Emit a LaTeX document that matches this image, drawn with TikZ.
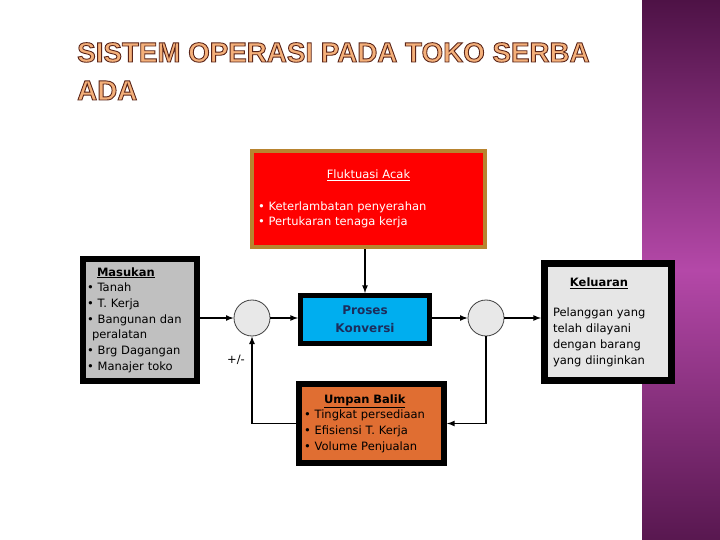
\documentclass[tikz,border=0pt]{standalone}
\usepackage{fontspec}
\usepackage{tikz}
\setmainfont{DejaVu Sans}
\newfontfamily\titlefont{Liberation Sans}
\usetikzlibrary{positioning}

\definecolor{titlefill}{HTML}{F4B07A}
\definecolor{titleline}{HTML}{5A2418}
\definecolor{flukborder}{HTML}{B8842F}
\definecolor{flukred}{HTML}{FF0000}
\definecolor{inputgray}{HTML}{C0C0C0}
\definecolor{outputgray}{HTML}{E6E6E6}
\definecolor{knotgray}{HTML}{E8E8E8}
\definecolor{prosesblue}{HTML}{00AEEF}
\definecolor{prosestext}{HTML}{1C2D5C}
\definecolor{umpanorange}{HTML}{E06E32}
\definecolor{purpdark}{HTML}{4E1246}
\definecolor{purpmid}{HTML}{B448A8}

% outlined title letters
\newcommand{\outlined}[1]{%
  \textcolor{titlefill}{%
    \special{pdf:literal direct 2 Tr 0.9 w 0.353 0.141 0.094 RG}%
    #1%
    \special{pdf:literal direct 0 Tr}}}

\tikzset{
  box/.style={draw=black, line width=6pt, align=left, inner sep=4pt,
    font=\fontsize{11.5}{15.7}\selectfont},
  knot/.style={circle, draw=black!75, fill=knotgray, line width=0.8pt,
    minimum size=36pt, inner sep=0pt},
  arr/.style={->, >=latex, line width=1.6pt},
}

\begin{document}
\begin{tikzpicture}[x=1pt, y=-1pt]
  \def\flukw{221}
  \def\kelw{110}

  \useasboundingbox (0,0) rectangle (720,540);

  % Purple strip on the right
  \shade[top color=purpdark, bottom color=purpdark!90!purpmid, middle color=purpmid]
    (642,0) rectangle (720,540);

  % Random fluctuation box
  \node[box, draw=flukborder, line width=4pt, fill=flukred, text=white,
    minimum width=233pt, minimum height=96pt, text width=\flukw pt, inner sep=6pt]
    (fluk) at (368.5,199)
    {\makebox[\flukw pt]{\underline{Fluktuasi Acak}}\\[16pt]
     \textbullet\ Keterlambatan penyerahan\\
     \textbullet\ Pertukaran tenaga kerja};

  % Input, process, output
  \node[box, fill=inputgray, minimum width=114pt, minimum height=122pt,
    text width=106pt] (masuk) at (140,320)
    {\hspace*{10pt}\textbf{\underline{Masukan}}\\
     \textbullet\ Tanah\\
     \textbullet\ T. Kerja\\
     \textbullet\ Bangunan dan\\
     \hspace*{5pt}peralatan\\
     \textbullet\ Brg Dagangan\\
     \textbullet\ Manajer toko};

  \node[knot] (c1) at (252,318) {};

  \node[box, line width=5pt, fill=prosesblue, text=prosestext, align=center,
    minimum width=129pt, minimum height=48pt,
    font=\bfseries\fontsize{12}{18}\selectfont] (proses) at (365,319.5)
    {Proses\\Konversi};

  \node[knot] (c2) at (486,318) {};

  \node[box, line width=7pt, fill=outputgray, minimum width=127pt,
    minimum height=117pt, text width=\kelw pt, inner sep=8.5pt] (kel) at (608,322)
    {\makebox[\kelw pt]{\hspace*{-18pt}\textbf{\underline{Keluaran}}}\\[15pt]
     Pelanggan yang\\
     telah dilayani\\
     dengan barang\\
     yang diinginkan};

  % Feedback box
  \node[box, fill=umpanorange, minimum width=145pt, minimum height=79pt,
    text width=135pt, inner sep=5pt] (umpan) at (371.5,423.5)
    {\hspace*{20pt}\textbf{\underline{Umpan Balik}}\\
     \textbullet\ Tingkat persediaan\\
     \textbullet\ Efisiensi T. Kerja\\
     \textbullet\ Volume Penjualan};

  \node[font=\fontsize{11.5}{14}\selectfont] (sign) at (236,360) {+/-};

  % Connectors
  \draw[arr] (c1 -| masuk.east) -- (c1.west);
  \draw[arr] (c1.east) -- (c1.east -| proses.west);
  \draw[arr] (proses.north |- fluk.south) -- (proses.north);
  \draw[arr] (c2.west -| proses.east) -- (c2.west);
  \draw[arr] (c2.east) -- (c2.east -| kel.west);
  \draw[arr] (c2.south) |- (umpan.east);
  \draw[arr] (umpan.west) -| (c1.south);

  % Title
  \node[anchor=base west, inner sep=0pt, align=left,
    font=\titlefont\bfseries\fontsize{27.75}{38}\selectfont] (title) at (77,100)
    {\outlined{SISTEM OPERASI PADA TOKO SERBA}\\
     \outlined{ADA}};
\end{tikzpicture}
\end{document}
